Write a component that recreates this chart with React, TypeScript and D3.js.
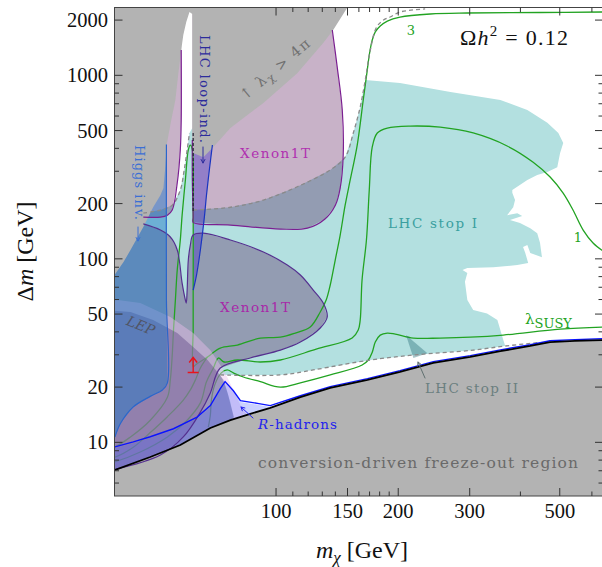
import React from "react";
import * as d3 from "d3";

type P = [number, number];

// ---------- axis ticks ----------
const xMajorTicks = [100, 150, 200, 300, 500];
const xTickLabels = ["100", "150", "200", "300", "500"];
const xMinorTicks = [110, 120, 130, 140, 160, 170, 180, 190, 400, 600];
const yMajorTicks = [10, 20, 50, 100, 200, 500, 1000, 2000];
const yTickLabels = ["10", "20", "50", "100", "200", "500", "1000", "2000"];
const yMinorTicks = [6, 7, 8, 9, 30, 40, 60, 70, 80, 90, 300, 400, 600, 700, 800, 900];

// ---------- data (m_chi [GeV], Delta m [GeV]) ----------
const freezeOutEdge: P[] = [[36, 6.7], [40, 7.06], [49, 8.32], [58.1, 9.67], [68.9, 11.97], [77.2, 13.2], [86.4, 14.3], [96.8, 15.4], [114.8, 17.65], [136, 19.8], [168, 21.9], [202, 24.2], [244, 27.1], [301, 29.2], [357, 31.4], [423, 33.5], [473, 35.2], [545, 35.7], [636, 36.1], [660, 36.2]];

const lambdaEdgeLeft: P[] = [[36, 76], [40, 81.6], [42.1, 96], [43.8, 111.7], [47.1, 149], [49.8, 191], [51.9, 222], [52.8, 243], [53.4, 324], [53.8, 420], [55.2, 571], [56.5, 734], [57.4, 1003], [58.4, 1374], [59.1, 1658], [60.1, 1950], [61.2, 2213]];
const lambdaEdgeRight: P[] = [[62.2, 2160], [62.2, 1211], [62.2, 647], [62.2, 444], [62.5, 377], [66.2, 358], [70.1, 407], [77.2, 516], [93.1, 707], [112.8, 1027], [130.7, 1500], [138.3, 1766], [149.9, 2342], [155, 2700]];

const stopIEdge: P[] = [[165.9, 943], [202, 908], [269, 812], [357, 734], [416, 647], [466, 551], [496, 485], [510, 428], [501, 377], [493, 316], [466, 297], [440, 286], [416, 269], [382, 237], [382, 229], [388, 209], [384, 191], [371, 173], [393, 177], [404, 171], [377, 162.7], [399, 157], [423, 146.8], [440, 138], [447, 122.3], [452, 102], [423, 107.7], [416, 119], [406, 116], [411, 108], [418, 95], [393, 92.5], [343, 90], [296, 89], [288, 86.9], [296, 83.8], [292, 75], [296, 59.6], [306, 52.6], [331, 50.4], [351, 46.4], [357, 40.9], [363, 36.1], [367, 33.5]];
const stopIFoot: P[] = [[75.4, 19.8], [77.2, 16.6], [78.5, 13.7]];
const stopISpikeTop: P = [62.2, 516];
const lowerDashed: P[] = [[72.9, 23.3], [102.5, 23.3], [123.5, 24.8], [170.7, 28.1], [218, 29.9], [306, 31.8], [367, 33.5], [447, 35.0]];
const dashedLeft: P[] = [[47.1, 177.5], [51.9, 184.5], [55.5, 196], [58.1, 237], [59.4, 305], [60.4, 392], [61.2, 485]];
const dashedRight: P[] = [[62.5, 184.5], [77.2, 191], [93.1, 209], [112.8, 247], [136, 305], [148, 358], [155, 485], [161.2, 672], [165.9, 943], [170.7, 1374], [177, 1834], [184, 2001], [191, 2078], [202, 2213], [233, 2300]];

const xenonUpperLeft: P[] = [[47.1, 168.7], [51.9, 168.7], [54.0, 173], [55.5, 184.5], [57.1, 259], [58.1, 392], [58.4, 571], [58.4, 1374]];
const xenonUpperRight: P[] = [[62.2, 444], [62.2, 269], [62.5, 168.7], [62.5, 158], [77.2, 152.8], [102.5, 145.3], [119.5, 147], [132, 165], [140, 196], [143.9, 243], [146.4, 368], [145.6, 647], [141.5, 1109], [137.6, 1766], [136, 2400]];
const xenonLower: P[] = [[47.1, 155], [51.9, 143.5], [54.9, 131.5], [57.1, 111.7], [58.7, 73.8], [59.8, 59.6], [60.1, 57.4], [60.4, 67.6], [60.8, 98.5], [61.5, 118.9], [62.5, 134.8], [66.2, 138], [77.2, 126.6], [93.1, 109], [106.6, 92.5], [114.8, 81.6], [123.5, 67.6], [130.7, 57.4], [133.7, 48.2], [128.5, 42], [114.8, 35.2], [102.5, 31.8], [86.4, 28.8], [72.9, 25.4], [68.9, 18.6], [65.1, 14.6], [59.1, 10.7], [51.9, 8.53], [39.6, 7.06]];

const higgsEdge: P[] = [[53.7, 420], [53.7, 59.6], [54.0, 21.1], [52.5, 19.3], [49.0, 17.8], [44.5, 15.6], [41.4, 12.7], [40.1, 10.7], [36, 10.1]];
const loopIndEdge: P[] = [[69.7, 444], [69.7, 417], [68.5, 305], [67.4, 222.5], [66.6, 168.7], [65.1, 111.7], [63.7, 81.6], [62.5, 67.6]];
const loopIndDashed: P[] = [[62.5, 485], [62.5, 180]];

const lepOuter: P[] = [[36, 62], [46.3, 57.4], [54.9, 48.2], [62.5, 39.4], [68.9, 31.8], [73.7, 25.4], [75.8, 22.7], [78.5, 19.3], [81.7, 16.0], [84.5, 14.3]];
const lepInner: P[] = [[36, 53], [43.8, 51.3], [49.8, 46.4], [57.1, 39.4], [62.5, 33.1], [67.8, 28.1], [71.7, 24.2], [74.2, 21.9], [76.2, 18.1], [77.9, 15.0], [78.8, 13.7]];
const rHadEdge: P[] = [[36, 9.0], [40.1, 9.3], [44.5, 9.9], [49.0, 10.55], [55.9, 11.67], [63.9, 13.5], [68.9, 15.6], [72.9, 19.3], [74.9, 21.1], [78.5, 18.8], [81.7, 16.6], [90.7, 16.0], [96.8, 15.6]];
const stopIIPatch: P[] = [[209, 38.4], [236, 30.6], [218, 28.8]];

const lam3: P[] = [[639, 2213], [447, 2199], [296, 2186], [240, 2159], [202, 2078], [188, 1976], [180.6, 1857], [175.6, 1724], [172.6, 1558], [169.7, 1290], [167.8, 1068], [164, 734], [158.5, 417], [152.3, 269], [148, 196], [143.9, 134.8], [139.9, 98.5], [137.6, 81.6], [136, 72], [132.9, 59.6], [128.5, 51.3], [121.4, 42.5], [111.5, 39.4], [102.5, 37.4], [91.5, 37], [80.3, 33.9], [72.9, 32.6], [67.8, 29.2], [63.3, 26.4], [62.5, 25.8], [62.5, 40.9], [62.5, 76.6], [62.5, 180], [62.2, 392], [61.5, 417], [60.8, 392], [59.8, 269], [58.7, 173], [58.1, 126.6], [57.1, 86.9], [56.5, 59.6], [55.9, 40.9], [55.5, 29.9], [54.9, 21.9], [54.0, 17.6], [49.0, 13.2], [43.8, 10.7], [39.9, 9.4], [36, 8.9]];
const lam1: P[] = [[639, 110.3], [604, 122], [571, 143.5], [539, 184.5], [509.7, 228], [473.4, 279], [430, 336], [371, 412], [306, 485], [253.8, 522], [214, 529], [188, 516], [177.6, 485], [172.6, 407], [169.7, 237], [167, 126.6], [162.9, 76.6], [161.2, 46.4], [159.4, 40.9], [154, 37], [125.6, 32.2], [102.5, 28.1], [91.5, 27.4], [80.3, 28.1], [74.5, 27.4], [72.1, 28.8], [70.1, 25.4], [67.4, 21.4], [65.1, 16.4], [60.4, 13.2], [54.0, 10.7], [46.3, 8.86], [39.9, 7.8], [36, 7.4]];
const lamSusy: P[] = [[639, 42.5], [501, 41.4], [363, 38.4], [301, 37.4], [253.8, 37], [218, 37], [196.6, 38.9], [188, 39.4], [180.6, 38.4], [175.6, 35.2], [172.6, 31], [168.8, 28.1], [163, 26.4], [136, 23.3], [114.8, 21.1], [102.5, 20.0], [91.5, 21.4], [83.1, 22.7], [78.5, 23.9], [75.8, 24.8], [73.3, 23.9], [70.6, 20.5], [69.3, 17.0], [68.9, 14.1], [68.1, 12.1]];
const lamAux: P[] = [[67.8, 29.2], [65.1, 25.4], [63.3, 21.9], [61.5, 19.3], [59.1, 17.0], [54.0, 13.8], [49.0, 11.3], [44.5, 9.4], [40.1, 8.3], [36, 7.9]];
const redArrow: P[] = [[62.5, 24.0], [62.5, 29.0]];

// ---------- helpers ----------
const SERIF = "'Liberation Serif', 'Times New Roman', serif";
const LABEL = "'DejaVu Serif', 'DejaVu Sans', serif";
const GREEN = "#22a322";

function Arrow({ x1, y1, x2, y2, color, w = 1, head = 4 }: { x1: number; y1: number; x2: number; y2: number; color: string; w?: number; head?: number }) {
  const a = Math.atan2(y2 - y1, x2 - x1);
  const hx1 = x2 - head * Math.cos(a - 0.5), hy1 = y2 - head * Math.sin(a - 0.5);
  const hx2 = x2 - head * Math.cos(a + 0.5), hy2 = y2 - head * Math.sin(a + 0.5);
  return (
    <g stroke={color} strokeWidth={w} fill="none" strokeLinecap="round">
      <line x1={x1} y1={y1} x2={x2} y2={y2} />
      <path d={`M${hx1},${hy1} L${x2},${y2} L${hx2},${hy2}`} />
    </g>
  );
}

export default function App() {
  const W = 602, H = 567;
  const left = 114.5, right = 603, top = 7.5, bottom = 496;
  const LO = 36, HI = 2700, FLOOR = 3;
  const x = d3.scaleLog().domain([40, 639]).range([left, right]);
  const y = d3.scaleLog().domain([5.1, 2342]).range([bottom, top]);
  const lin = d3.line<P>().x((d) => x(d[0])).y((d) => y(d[1]));
  const smooth = d3.line<P>().x((d) => x(d[0])).y((d) => y(d[1])).curve(d3.curveCatmullRom.alpha(0.5));
  const area = (pts: P[]) => (lin(pts) ?? "") + "Z";
  const below = (mMax: number) => freezeOutEdge.filter((p) => p[0] < mMax).slice().reverse();
  const last = (a: P[]) => a[a.length - 1];

  const cyanPoly: P[] = [
    ...stopIEdge,
    ...lowerDashed.filter((p) => p[0] <= 306).slice().reverse(),
    ...stopIFoot,
    ...below(stopIFoot[stopIFoot.length - 1][0]),
    [LO, dashedLeft[0][1]],
    ...dashedLeft,
    stopISpikeTop,
    ...dashedRight.filter((p) => p[0] < stopIEdge[0][0]),
  ];
  const upperLeftPoly: P[] = [[LO, xenonUpperLeft[0][1]], ...xenonUpperLeft, [last(xenonUpperLeft)[0], HI], [LO, HI]];
  const upperRightPoly: P[] = [[xenonUpperRight[0][0], HI], ...xenonUpperRight, [last(xenonUpperRight)[0], HI]];
  const lowerPoly: P[] = [[LO, xenonLower[0][1]], ...xenonLower, [LO, last(xenonLower)[1]]];
  const higgsPoly: P[] = [[LO, HI], [higgsEdge[0][0], HI], ...higgsEdge];
  const loopPoly: P[] = [[last(loopIndEdge)[0], loopIndEdge[0][1]], ...loopIndEdge];
  const lepOuterPoly: P[] = [...lepOuter, ...below(last(lepOuter)[0])];
  const lepInnerPoly: P[] = [...lepInner, ...below(last(lepInner)[0])];
  const rHadPoly: P[] = [...rHadEdge, ...below(last(rHadEdge)[0])];
  const lambdaPoly: P[] = [[LO, HI], ...lambdaEdgeLeft, ...lambdaEdgeRight, [last(lambdaEdgeRight)[0], HI]];
  const freezePoly: P[] = [...freezeOutEdge, [last(freezeOutEdge)[0], FLOOR], [freezeOutEdge[0][0], FLOOR]];
  const rHadLine: P[] = [...rHadEdge, ...freezeOutEdge.filter((p) => p[0] > last(rHadEdge)[0])];

  const ra0 = [x(redArrow[0][0]), y(redArrow[0][1])];
  const ra1 = [x(redArrow[1][0]), y(redArrow[1][1])];

  return (
    <svg width={W} height={H} viewBox={`0 0 ${W} ${H}`} style={{ position: "absolute", left: 0, top: 0, background: "#fff" }}>
      <defs>
        <clipPath id="plot">
          <rect x={left} y={top} width={right - left} height={bottom - top} />
        </clipPath>
      </defs>
      <rect x={0} y={0} width={W} height={H} fill="#fff" />
      <g clipPath="url(#plot)">
        {/* LHC stop I */}
        <path d={area(cyanPoly)} fill="#b3e0e0" />
        {/* Xenon1T */}
        <path d={area(upperLeftPoly)} fill="rgba(72,0,72,0.3)" />
        <path d={area(upperRightPoly)} fill="rgba(72,0,72,0.3)" />
        <path d={area(lowerPoly)} fill="rgba(72,0,72,0.3)" />
        {/* LHC loop-induced */}
        <path d={area(loopPoly)} fill="rgba(60,45,200,0.38)" />
        {/* coupling contours */}
        <g fill="none" stroke={GREEN} strokeWidth={1.3}>
          <path d={smooth(lam3) ?? ""} />
          <path d={smooth(lam1) ?? ""} />
          <path d={smooth(lamSusy) ?? ""} />
          <path d={smooth(lamAux) ?? ""} />
        </g>
        {/* LEP */}
        <path d={area(lepOuterPoly)} fill="rgba(235,190,235,0.45)" />
        <path d={area(lepInnerPoly)} fill="rgba(90,70,130,0.42)" />
        {/* Higgs invisible */}
        <path d={area(higgsPoly)} fill="rgba(30,118,200,0.47)" />
        {/* R-hadrons */}
        <path d={area(rHadPoly)} fill="rgba(60,90,255,0.28)" />
        {/* LHC stop II */}
        <path d={area(stopIIPatch)} fill="rgba(40,110,120,0.4)" />
        {/* perturbativity & conversion-driven region */}
        <path d={area(lambdaPoly)} fill="#b3b3b3" />
        <path d={area(freezePoly)} fill="#b3b3b3" />

        {/* boundary lines */}
        <g fill="none" stroke="#8a8a8a" strokeWidth={1.3} strokeDasharray="4 3">
          <path d={smooth(dashedLeft) ?? ""} />
          <path d={smooth(dashedRight) ?? ""} />
          <path d={smooth(lowerDashed) ?? ""} />
        </g>
        <g fill="none" strokeWidth={1.2}>
          <path d={smooth(xenonUpperLeft) ?? ""} stroke="#7b1f91" />
          <path d={smooth(xenonUpperRight.slice(0, -1)) ?? ""} stroke="#7b1f91" />
          <path d={smooth(xenonLower) ?? ""} stroke="#55308f" />
          <path d={smooth(higgsEdge.slice(0, -1)) ?? ""} stroke="#2a66cc" />
          <path d={smooth(loopIndEdge.slice(1)) ?? ""} stroke="#1a35c0" />
        </g>
        <path d={lin(loopIndDashed) ?? ""} fill="none" stroke="#223" strokeWidth={1.2} strokeDasharray="3 2" />
        <path d={lin(rHadLine) ?? ""} fill="none" stroke="#0a14ff" strokeWidth={1.4} transform="translate(0,-1.3)" />
        <path d={lin(freezeOutEdge) ?? ""} fill="none" stroke="#000" strokeWidth={1.8} />
        {/* red arrow */}
        <g stroke="#e8141c" strokeWidth={1.4} fill="none">
          <line x1={ra0[0]} y1={ra0[1]} x2={ra1[0]} y2={ra1[1]} />
          <line x1={ra0[0] - 5.5} y1={ra0[1]} x2={ra0[0] + 5.5} y2={ra0[1]} />
          <path d={`M${ra1[0] - 4},${ra1[1] + 5} L${ra1[0]},${ra1[1]} L${ra1[0] + 4},${ra1[1] + 5}`} />
        </g>
      </g>

      {/* frame */}
      <rect x={left} y={top} width={right - left} height={bottom - top} fill="none" stroke="#444" strokeWidth={1} />
      {/* ticks */}
      <g stroke="#333" strokeWidth={1}>
        {yMajorTicks.map((v) => (
          <g key={"ym" + v}>
            <line x1={left} x2={left + 8} y1={y(v)} y2={y(v)} />
            <line x1={right} x2={right - 8} y1={y(v)} y2={y(v)} />
          </g>
        ))}
        {yMinorTicks.map((v) => (
          <g key={"yn" + v}>
            <line x1={left} x2={left + 4.5} y1={y(v)} y2={y(v)} />
            <line x1={right} x2={right - 4.5} y1={y(v)} y2={y(v)} />
          </g>
        ))}
        {xMajorTicks.map((v) => (
          <g key={"xm" + v}>
            <line x1={x(v)} x2={x(v)} y1={bottom} y2={bottom - 8} />
            <line x1={x(v)} x2={x(v)} y1={top} y2={top + 8} />
          </g>
        ))}
        {xMinorTicks.map((v) => (
          <g key={"xn" + v}>
            <line x1={x(v)} x2={x(v)} y1={bottom} y2={bottom - 4.5} />
            <line x1={x(v)} x2={x(v)} y1={top} y2={top + 4.5} />
          </g>
        ))}
      </g>
      {/* tick labels */}
      <g fontFamily={SERIF} fontSize={20.5} fill="#111">
        {yMajorTicks.map((v, i) => (
          <text key={"yl" + v} x={108} y={y(v) + 7} textAnchor="end">{yTickLabels[i]}</text>
        ))}
        {xMajorTicks.map((v, i) => (
          <text key={"xl" + v} x={x(v)} y={518} textAnchor="middle">{xTickLabels[i]}</text>
        ))}
      </g>
      {/* axis titles */}
      <text transform="translate(33,251.5) rotate(-90)" textAnchor="middle" fontFamily={SERIF} fontSize={24} fill="#111">
        Δ<tspan fontStyle="italic">m</tspan> [GeV]
      </text>
      <text x={362} y={558} textAnchor="middle" fontFamily={SERIF} fontSize={24} fill="#111">
        <tspan fontStyle="italic">m</tspan>
        <tspan fontStyle="italic" fontSize={17} dy={5}>χ</tspan>
        <tspan dy={-5}> [GeV]</tspan>
      </text>

      {/* annotations */}
      <text x={460} y={45} fontFamily={SERIF} fontSize={22} fill="#111" textLength={108} lengthAdjust="spacing">
        Ω<tspan fontStyle="italic">h</tspan><tspan fontSize={15} dy={-9}>2</tspan><tspan dy={9}> = 0.12</tspan>
      </text>
      <g fontFamily={LABEL}>
        <text x={411} y={35} textAnchor="middle" fontSize={13} fill={GREEN}>3</text>
        <text x={578} y={242} textAnchor="middle" fontSize={13} fill={GREEN}>1</text>
        <text x={525} y={324} fontSize={15} fill={GREEN}>λ<tspan fontSize={13} dy={4}>SUSY</tspan></text>
        <text x={388} y={228} fontSize={13.5} fill="#3a9f9f" textLength={89} lengthAdjust="spacing">LHC stop I</text>
        <text x={425} y={393} fontSize={13.5} fill="#6b7f80" textLength={93} lengthAdjust="spacing">LHC stop II</text>
        <text x={240} y={158} fontSize={13.5} fill="#b030b0" textLength={70} lengthAdjust="spacing">Xenon1T</text>
        <text x={220} y={312} fontSize={13.5} fill="#a828a8" textLength={70} lengthAdjust="spacing">Xenon1T</text>
        <text x={258} y={468} fontSize={15.5} fill="#6a6a6a" textLength={320} lengthAdjust="spacing">conversion-driven freeze-out region</text>
        <text x={258} y={429} fontSize={13.5} fill="#2323ee" textLength={79} lengthAdjust="spacing">
          <tspan fontStyle="italic">R</tspan>-hadrons
        </text>
        <text transform="translate(139,330) rotate(22)" textAnchor="middle" fontSize={14} fontStyle="italic" fill="#505566">LEP</text>
        <text transform="translate(135,182.5) rotate(90)" textAnchor="middle" fontSize={13} fill="#3b6fd4" textLength={75} lengthAdjust="spacing">Higgs inv.</text>
        <text transform="translate(200,89) rotate(90)" textAnchor="middle" fontSize={13} fill="#2c2c9c" textLength={108} lengthAdjust="spacing">LHC loop-ind.</text>
        <text transform="translate(278,73) rotate(-40)" textAnchor="middle" fontSize={14.5} fill="#707070" textLength={86} lengthAdjust="spacing">
          ↑ λ<tspan fontSize={11} dy={3}>χ</tspan><tspan dy={-3}> &gt; 4π</tspan>
        </text>
      </g>
      <Arrow x1={138} y1={227} x2={138} y2={241} color="#3b6fd4" />
      <Arrow x1={203} y1={147} x2={203} y2={163} color="#2c2c9c" />
      <Arrow x1={253} y1={418} x2={241} y2={407} color="#2323ee" />
      <Arrow x1={425} y1={378} x2={418} y2={362} color="#607070" />
    </svg>
  );
}
